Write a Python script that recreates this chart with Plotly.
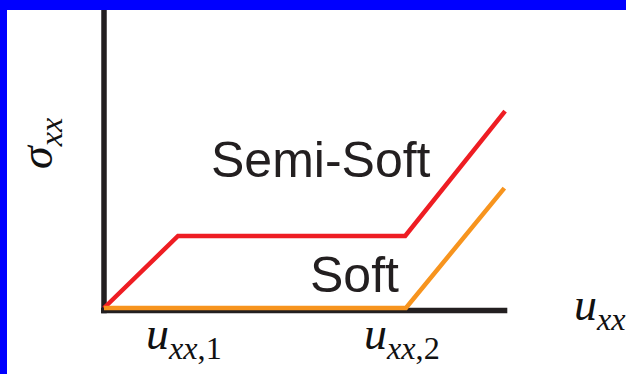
import plotly.graph_objects as go

# Characteristic strain values (x positions of the kinks)
u_xx_1 = 1.0
u_xx_2 = 4.07
u_end = 5.42

# Semi-soft response: linear rise, plateau, then stiffening
semi_soft_strain = [0.0, u_xx_1, u_xx_2, u_end]
semi_soft_stress = [0.0, 0.973, 0.973, 2.66]

# Soft response: zero stress up to u_xx,2, then stiffening
soft_strain = [0.0, 4.08, 5.41]
soft_stress = [0.0, 0.0, 1.62]

# Strain tick labels
tick_positions = [u_xx_1, u_xx_2]
tick_labels = ["<i>u</i><sub><i>xx</i>,1</sub>", "<i>u</i><sub><i>xx</i>,2</sub>"]

RED = "#EE1D23"
ORANGE = "#F7941E"
INK = "#231F20"
FRAME = "#0000FF"

fig = go.Figure()

fig.add_trace(go.Scatter(
    x=semi_soft_strain, y=semi_soft_stress, mode="lines",
    line=dict(color=RED, width=4.5), hoverinfo="skip", showlegend=False,
))
fig.add_trace(go.Scatter(
    x=soft_strain, y=soft_stress, mode="lines",
    line=dict(color=ORANGE, width=4.5), hoverinfo="skip", showlegend=False,
))

# Hand-drawn style axes
x_min, x_max = -1.3108, 7.054
y_min, y_max = -0.892, 4.027
fig.add_shape(type="line", xref="x", yref="y", x0=0, x1=0, y0=-0.07, y1=y_max,
              line=dict(color=INK, width=5.5), layer="below")
fig.add_shape(type="line", xref="x", yref="y", x0=-0.04, x1=u_end + 0.03, y0=-0.034, y1=-0.034,
              line=dict(color=INK, width=5.5), layer="below")

# Blue frame along the top and left edges
fig.add_shape(type="rect", xref="paper", yref="paper", x0=-0.0114, x1=0, y0=-0.01, y1=1.0,
              fillcolor=FRAME, line=dict(width=0), layer="above")
fig.add_shape(type="rect", xref="paper", yref="paper", x0=-0.0114, x1=1.0, y0=1, y1=1.0275,
              fillcolor=FRAME, line=dict(width=0), layer="above")

# Curve labels
label_font = dict(family="Liberation Sans, Arial, sans-serif", size=50, color=INK)
fig.add_annotation(x=2.93, y=2.0, xref="x", yref="y", text="Semi-Soft", showarrow=False,
                   xanchor="center", yanchor="middle", font=label_font)
fig.add_annotation(x=3.385, y=0.446, xref="x", yref="y", text="Soft", showarrow=False,
                   xanchor="center", yanchor="middle", font=label_font)

# Math labels
math_font = dict(family="Liberation Serif, Times New Roman, serif", size=46, color="#111111")
for pos, lab, shift in zip(tick_positions, tick_labels, [5.5, -3]):
    fig.add_annotation(x=pos, y=-0.39, xref="x", yref="y", text=lab, showarrow=False,
                       xanchor="center", yanchor="middle", xshift=shift, font=math_font)
fig.add_annotation(x=6.324, y=0.0, xref="x", yref="y", text="<i>u</i><sub><i>xx</i></sub>",
                   showarrow=False, xanchor="left", yanchor="middle", font=math_font)
fig.add_annotation(x=-0.865, y=2.23, xref="x", yref="y", text="<i>σ</i><sub><i>xx</i></sub>",
                   showarrow=False, textangle=-90, xanchor="center", yanchor="middle", font=math_font)

axis_common = dict(showgrid=False, zeroline=False, showticklabels=False, ticks="",
                   showline=False, fixedrange=True)
fig.update_layout(
    width=626, height=374,
    margin=dict(l=7, r=0, t=10, b=0, pad=0),
    paper_bgcolor="#FFFFFF",
    plot_bgcolor="#FFFFFF",
    xaxis=dict(range=[x_min, x_max], **axis_common),
    yaxis=dict(range=[y_min, y_max], **axis_common),
    showlegend=False,
)

fig.write_html("out.html", config={"displayModeBar": False})
